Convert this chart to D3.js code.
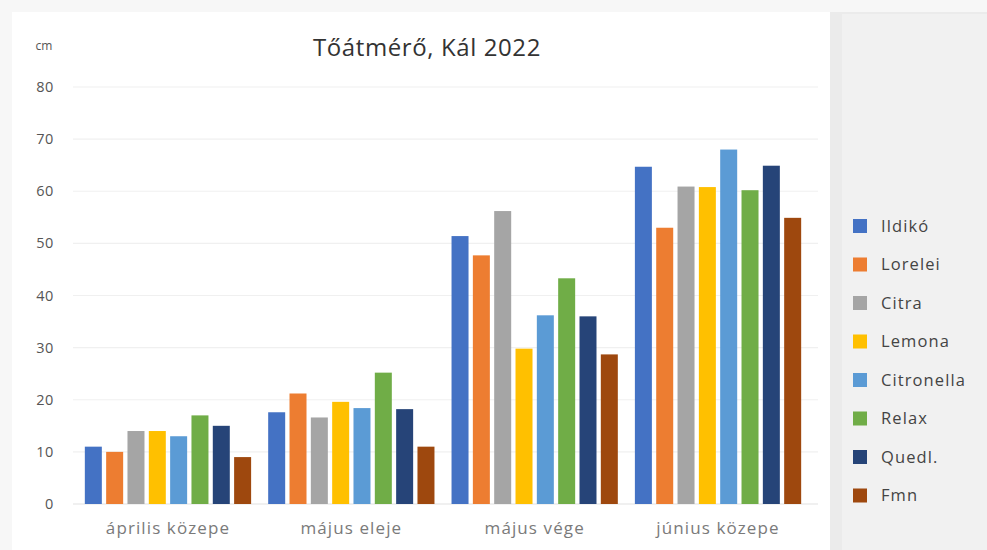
<!DOCTYPE html>
<html><head><meta charset="utf-8">
<script src="https://cdn.jsdelivr.net/npm/d3@7"></script>
<style>
html,body{margin:0;padding:0;background:#f7f7f7;}
svg{display:block;font-family:"Open Sans","Noto Sans",sans-serif;}
</style></head>
<body><svg id="c" width="987" height="550"></svg>
<script>
const categories = ["április közepe","május eleje","május vége","június közepe"];
const seriesNames = ["Ildikó","Lorelei","Citra","Lemona","Citronella","Relax","Quedl.","Fmn"];
const seriesColors = ["#4472C4","#ED7D31","#A5A5A5","#FFC000","#5B9BD5","#70AD47","#264478","#9E480E"];
const ildiko     = [11, 17.6, 51.4, 64.7];
const lorelei    = [10, 21.2, 47.7, 53.0];
const citra      = [14, 16.6, 56.2, 60.9];
const lemona     = [14, 19.6, 29.8, 60.8];
const citronella = [13, 18.4, 36.2, 68.0];
const relax      = [17, 25.2, 43.3, 60.2];
const quedl      = [15, 18.2, 36.0, 64.9];
const fmn        = [9, 11.0, 28.7, 54.9];
const yTicks = [0,10,20,30,40,50,60,70,80];
const title = "Tőátmérő, Kál 2022";
const unit = "cm";

const values = [ildiko,lorelei,citra,lemona,citronella,relax,quedl,fmn];
const svg = d3.select("#c");

// backgrounds
svg.append("rect").attr("x",0).attr("y",0).attr("width",987).attr("height",550).attr("fill","#f7f7f7");
svg.append("rect").attr("x",12).attr("y",12).attr("width",818).attr("height",538).attr("fill","#ffffff");
svg.append("rect").attr("x",830).attr("y",12).attr("width",157).attr("height",538).attr("fill","#ebebeb");
svg.append("rect").attr("x",842).attr("y",14).attr("width",145).attr("height",536).attr("fill","#f1f1f1");

const y = d3.scaleLinear().domain([0,80]).range([504,87]);
const x0 = d3.scaleBand().domain(categories).range([76.3,809.7]).padding(0);
const x1 = d3.scaleBand().domain(seriesNames).range([0,x0.bandwidth()]).paddingInner(0.203).paddingOuter(0.4);

// grid
svg.append("g").selectAll("line").data(yTicks).join("line")
  .attr("x1",73).attr("x2",818)
  .attr("y1",d=>y(d)).attr("y2",d=>y(d))
  .attr("stroke",d=>d===0?"#e2e2e2":"#f0f0f0").attr("stroke-width",1.2);

// y tick labels
svg.append("g").selectAll("text").data(yTicks).join("text")
  .attr("x",54).attr("y",d=>y(d)).attr("dy","0.35em")
  .attr("text-anchor","end").attr("font-size",14.5).attr("letter-spacing",0.6).attr("fill","#555")
  .text(d=>d);

svg.append("text").attr("x",44).attr("y",46).attr("dy","0.35em").attr("text-anchor","middle")
  .attr("font-size",12).attr("fill","#555").text(unit);

// bars
const groups = svg.append("g").selectAll("g").data(categories).join("g")
  .attr("transform",c=>`translate(${x0(c)},0)`);
groups.selectAll("rect").data((c,ci)=>seriesNames.map((s,si)=>({s,si,v:values[si][ci]}))).join("rect")
  .attr("x",d=>x1(d.s)).attr("width",x1.bandwidth())
  .attr("y",d=>y(d.v)).attr("height",d=>y(0)-y(d.v))
  .attr("fill",d=>seriesColors[d.si]);

// x labels
svg.append("g").selectAll("text").data(categories).join("text")
  .attr("x",c=>x0(c)+x0.bandwidth()/2).attr("y",534)
  .attr("text-anchor","middle").attr("font-size",17).attr("letter-spacing",1.1).attr("fill","#7a7a7a")
  .text(c=>c);

// title
svg.append("text").attr("x",427).attr("y",56).attr("text-anchor","middle")
  .attr("font-size",24).attr("letter-spacing",0.6).attr("fill","#333").text(title);

// legend
const leg = svg.append("g").selectAll("g").data(seriesNames).join("g")
  .attr("transform",(d,i)=>`translate(853,${226+i*38.5})`);
leg.append("rect").attr("x",0).attr("y",-7).attr("width",14).attr("height",14)
  .attr("fill",(d,i)=>seriesColors[i]);
leg.append("text").attr("x",28).attr("y",0).attr("dy","0.35em")
  .attr("font-size",16.5).attr("letter-spacing",1.1).attr("fill","#444").text(d=>d);
</script></body></html>
